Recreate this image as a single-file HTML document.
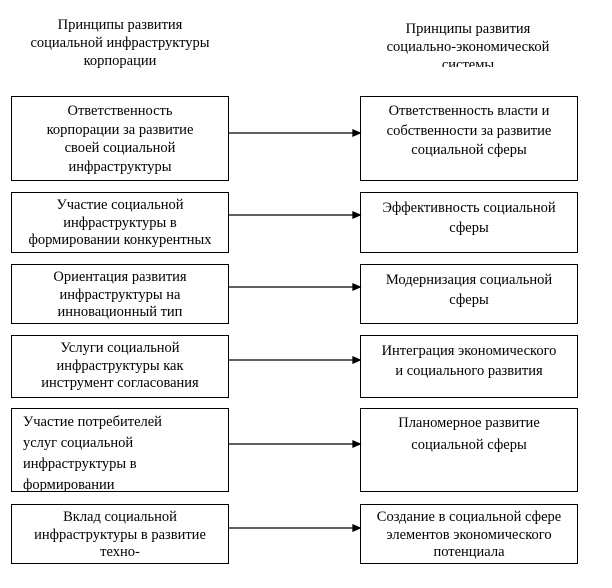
<!DOCTYPE html>
<html><head><meta charset="utf-8"><style>
html,body{margin:0;padding:0;background:#fff;}
body{width:612px;height:588px;position:relative;overflow:hidden;font-family:"Liberation Serif","Noto Serif CJK SC",serif;font-size:14.5px;color:#000;}
.b{position:absolute;border:1px solid #000;box-sizing:border-box;text-align:center;line-height:18.5px;overflow:hidden;padding:5px 2px 0 2px;background:#fff;white-space:nowrap;}
.l{left:11px;width:218px;}
.r{left:360px;width:218px;}
.h{position:absolute;text-align:center;line-height:18px;overflow:hidden;white-space:nowrap;}
svg{position:absolute;left:0;top:0;}
</style></head><body>
<div class="h" style="left:10px;width:220px;top:16px;height:54px;">Принципы развития<br>социальной инфраструктуры<br>корпорации</div>
<div class="h" style="left:350px;width:236px;top:20px;height:47px;">Принципы развития<br>социально-экономической<br>системы</div>

<div class="b l" style="top:96px;height:85px;">Ответственность<br>корпорации за развитие<br>своей социальной<br>инфраструктуры</div>
<div class="b r" style="top:96px;height:85px;line-height:19.5px;">Ответственность власти и<br>собственности за развитие<br>социальной сферы</div>

<div class="b l" style="top:192px;height:61px;line-height:17.5px;padding-top:4px;">Участие социальной<br>инфраструктуры в<br>формировании конкурентных</div>
<div class="b r" style="top:192px;height:61px;line-height:20px;">Эффективность социальной<br>сферы</div>

<div class="b l" style="top:264px;height:60px;line-height:17.5px;padding-top:4px;">Ориентация развития<br>инфраструктуры на<br>инновационный тип</div>
<div class="b r" style="top:264px;height:60px;line-height:20px;">Модернизация социальной<br>сферы</div>

<div class="b l" style="top:335px;height:63px;line-height:17.5px;padding-top:4px;">Услуги социальной<br>инфраструктуры как<br>инструмент согласования</div>
<div class="b r" style="top:335px;height:63px;line-height:20px;">Интеграция экономического<br>и социального развития</div>

<div class="b l" style="top:408px;height:84px;text-align:left;padding-left:11px;line-height:21px;padding-top:3px;">Участие потребителей<br>услуг социальной<br>инфраструктуры в<br>формировании</div>
<div class="b r" style="top:408px;height:84px;line-height:22px;padding-top:3px;">Планомерное развитие<br>социальной сферы</div>

<div class="b l" style="top:504px;height:60px;line-height:17.5px;padding-top:4px;">Вклад социальной<br>инфраструктуры в развитие<br>техно-</div>
<div class="b r" style="top:504px;height:60px;line-height:17.5px;padding-top:4px;">Создание в социальной сфере<br>элементов экономического<br>потенциала</div>

<svg width="612" height="588">
<g stroke="#000" stroke-width="1.3" fill="#000">
<line x1="229" y1="133" x2="354" y2="133"/><polygon points="360,133 353,130 353,136"/>
<line x1="229" y1="215" x2="354" y2="215"/><polygon points="360,215 353,212 353,218"/>
<line x1="229" y1="287" x2="354" y2="287"/><polygon points="360,287 353,284 353,290"/>
<line x1="229" y1="360" x2="354" y2="360"/><polygon points="360,360 353,357 353,363"/>
<line x1="229" y1="444" x2="354" y2="444"/><polygon points="360,444 353,441 353,447"/>
<line x1="229" y1="528" x2="354" y2="528"/><polygon points="360,528 353,525 353,531"/>
</g>
</svg>
</body></html>
